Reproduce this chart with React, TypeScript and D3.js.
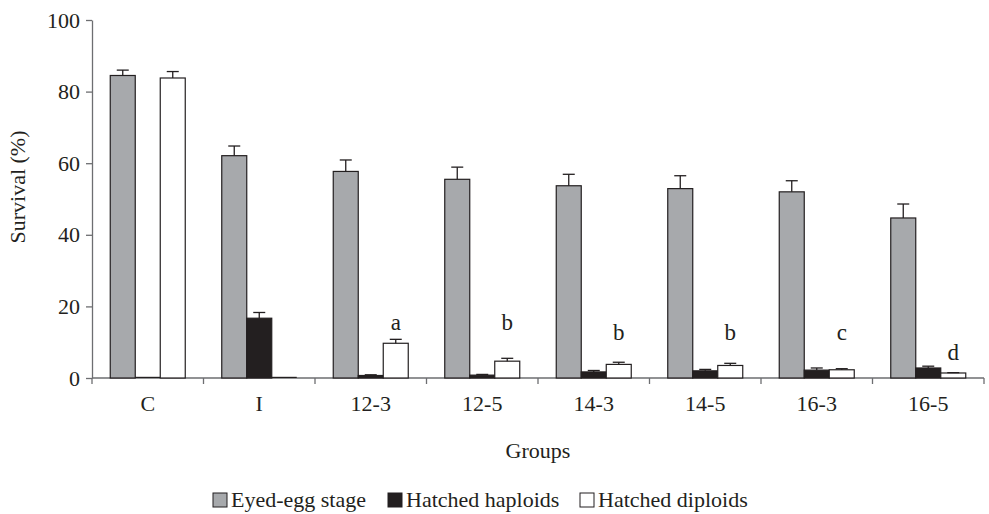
import React, { useEffect, useRef } from 'react';
import * as d3 from 'd3';

// groups on the x axis
const groups = ['C', 'I', '12-3', '12-5', '14-3', '14-5', '16-3', '16-5'];
const seriesNames = ['Eyed-egg stage', 'Hatched haploids', 'Hatched diploids'];

// survival (%) and the top of the error bar for each series
const eyedEgg = [84.5, 62.1, 57.7, 55.5, 53.7, 52.9, 52.0, 44.7];
const eyedEggErr = [86.0, 64.8, 60.9, 58.9, 56.9, 56.5, 55.1, 48.6];
const haploids = [0, 16.7, 0.7, 0.8, 1.7, 2.0, 2.2, 2.8];
const haploidsErr = [0, 18.3, 0.9, 1.0, 2.1, 2.4, 2.8, 3.3];
const diploids = [83.8, 0, 9.7, 4.7, 3.8, 3.5, 2.3, 1.4];
const diploidsErr = [85.6, 0, 10.8, 5.5, 4.4, 4.1, 2.6, 1.5];

// significance letters above the diploid bars (label baseline in % units)
const letters = ['', '', 'a', 'b', 'b', 'b', 'c', 'd'];
const letterY = [0, 0, 13.4, 13.4, 10.6, 10.6, 10.6, 5.0];

const yTicks = [0, 20, 40, 60, 80, 100];

const W = 989;
const H = 514;
const FONT = '"Liberation Serif", "Times New Roman", serif';
const fills = ['#a7a9ac', '#231f20', '#ffffff'];

const App: React.FC = () => {
  const svgRef = useRef<SVGSVGElement>(null);

  useEffect(() => {
    if (!svgRef.current) return;
    const svg = d3.select(svgRef.current);
    svg.selectAll('*').remove();

    const x0 = d3.scaleBand().domain(groups).range([92, 984]);
    const bw = x0.bandwidth();
    const x1 = d3.scaleBand().domain(seriesNames).range([(bw - 75) / 2, (bw + 75) / 2]);
    const y = d3.scaleLinear().domain([0, 100]).range([378, 20]);

    const values = [eyedEgg, haploids, diploids];
    const errs = [eyedEggErr, haploidsErr, diploidsErr];

    // y axis
    const yAxis = svg.append('g')
      .attr('transform', 'translate(92,0)')
      .call(d3.axisLeft(y).tickValues(yTicks).tickSize(6).tickPadding(6).tickSizeOuter(0));
    yAxis.select('.domain').attr('stroke', '#6d6e71').attr('stroke-width', 1.3);
    yAxis.selectAll('.tick line').attr('stroke', '#6d6e71').attr('stroke-width', 1.3);
    yAxis.selectAll('.tick text')
      .attr('font-family', FONT).attr('font-size', 22).attr('fill', '#231f20');

    // x axis: line with ticks at the group boundaries
    const xg = svg.append('g');
    xg.append('line')
      .attr('x1', x0.range()[0]).attr('x2', x0.range()[1])
      .attr('y1', y(0)).attr('y2', y(0))
      .attr('stroke', '#6d6e71').attr('stroke-width', 1.3);
    const bounds = groups.map(g => x0(g) as number).concat([x0.range()[1]]);
    xg.selectAll('line.tk').data(bounds).enter().append('line')
      .attr('class', 'tk')
      .attr('x1', d => d).attr('x2', d => d)
      .attr('y1', y(0)).attr('y2', y(0) + 6)
      .attr('stroke', '#6d6e71').attr('stroke-width', 1.3);
    xg.selectAll('text').data(groups).enter().append('text')
      .attr('x', d => (x0(d) as number) + bw / 2)
      .attr('y', 411)
      .attr('text-anchor', 'middle')
      .attr('font-family', FONT).attr('font-size', 22).attr('fill', '#231f20')
      .text(d => d);

    // bars
    const gGroups = svg.append('g').selectAll('g').data(groups).enter().append('g')
      .attr('transform', d => `translate(${x0(d)},0)`);

    seriesNames.forEach((s, si) => {
      gGroups.append('rect')
        .attr('x', x1(s) as number)
        .attr('width', x1.bandwidth())
        .attr('y', (_d, i) => y(values[si][i]))
        .attr('height', (_d, i) => y(0) - y(values[si][i]))
        .attr('fill', fills[si])
        .attr('stroke', '#231f20')
        .attr('stroke-width', 1.2);

      // zero-valued bars still leave a thin line on the baseline
      gGroups.filter((_d, i) => values[si][i] === 0).append('line')
        .attr('x1', x1(s) as number)
        .attr('x2', (x1(s) as number) + x1.bandwidth())
        .attr('y1', y(0) - 0.6).attr('y2', y(0) - 0.6)
        .attr('stroke', '#231f20').attr('stroke-width', 1.2);

      // error bars
      const cx = (x1(s) as number) + x1.bandwidth() / 2;
      gGroups.filter((_d, i) => errs[si][i] > values[si][i]).each(function (d) {
        const i = groups.indexOf(d);
        const g = d3.select(this);
        g.append('line')
          .attr('x1', cx).attr('x2', cx)
          .attr('y1', y(values[si][i])).attr('y2', y(errs[si][i]))
          .attr('stroke', '#231f20').attr('stroke-width', 1.3);
        g.append('line')
          .attr('x1', cx - 6).attr('x2', cx + 6)
          .attr('y1', y(errs[si][i])).attr('y2', y(errs[si][i]))
          .attr('stroke', '#231f20').attr('stroke-width', 1.3);
      });
    });

    // letters
    const dipX = (x1(seriesNames[2]) as number) + x1.bandwidth() / 2;
    gGroups.append('text')
      .attr('x', dipX)
      .attr('y', (_d, i) => y(letterY[i]))
      .attr('text-anchor', 'middle')
      .attr('font-family', FONT).attr('font-size', 23).attr('fill', '#231f20')
      .text((_d, i) => letters[i]);

    // axis titles
    svg.append('text')
      .attr('transform', 'translate(25,187) rotate(-90)')
      .attr('text-anchor', 'middle')
      .attr('font-family', FONT).attr('font-size', 22).attr('fill', '#231f20')
      .text('Survival (%)');
    svg.append('text')
      .attr('x', (x0.range()[0] + x0.range()[1]) / 2)
      .attr('y', 458)
      .attr('text-anchor', 'middle')
      .attr('font-family', FONT).attr('font-size', 22).attr('fill', '#231f20')
      .text('Groups');

    // legend
    const legendX = [213, 388, 580];
    const lg = svg.append('g').selectAll('g').data(seriesNames).enter().append('g')
      .attr('transform', (_d, i) => `translate(${legendX[i]},0)`);
    lg.append('rect')
      .attr('x', 0).attr('y', 493).attr('width', 14).attr('height', 14)
      .attr('fill', (_d, i) => fills[i])
      .attr('stroke', '#231f20').attr('stroke-width', 1);
    lg.append('text')
      .attr('x', 18).attr('y', 507)
      .attr('font-family', FONT).attr('font-size', 22).attr('fill', '#231f20')
      .text(d => d);
  }, []);

  return (
    <svg
      ref={svgRef}
      width={W}
      height={H}
      style={{ position: 'absolute', left: 0, top: 0, background: '#fff' }}
    />
  );
};

export default App;
